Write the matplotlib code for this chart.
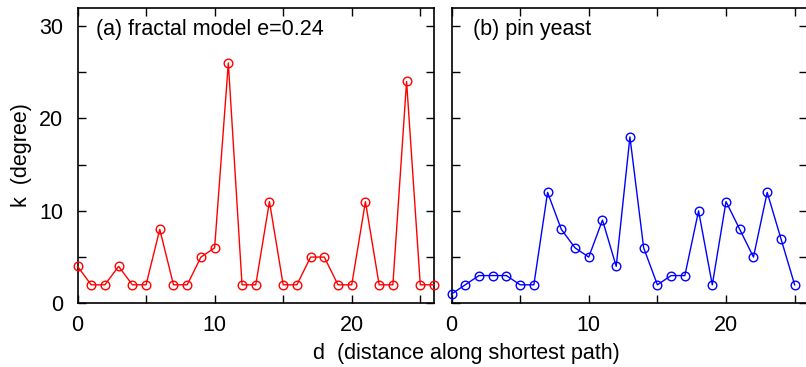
import matplotlib
matplotlib.use("Agg")
import matplotlib.pyplot as plt
from matplotlib.ticker import MultipleLocator

plt.rcParams['font.family'] = ['Liberation Sans', 'DejaVu Sans']

d_a = list(range(27))
k_a = [4, 2, 2, 4, 2, 2, 8, 2, 2, 5, 6, 26, 2, 2, 11, 2, 2, 5, 5, 2, 2, 11, 2, 2, 24, 2, 2]
d_b = list(range(26))
k_b = [1, 2, 3, 3, 3, 2, 2, 12, 8, 6, 5, 9, 4, 18, 6, 2, 3, 3, 10, 2, 11, 8, 5, 12, 7, 2]

label_a = "(a) fractal model e=0.24"
label_b = "(b) pin yeast"
xlabel = "d  (distance along shortest path)"
ylabel = "k  (degree)"

fig = plt.figure(figsize=(8.06, 3.67), dpi=100)
W, H = 806, 367
def ax_at(x0, x1, ytop, ybot):
    return fig.add_axes([x0 / W, (H - ybot) / H, (x1 - x0) / W, (ybot - ytop) / H])

ax1 = ax_at(77.5, 434, 7.5, 303.3)
ax2 = ax_at(451.5, 807, 7.5, 303.3)

fs = 15.5
for ax, d, k, col, lab, xmax in [(ax1, d_a, k_a, 'red', label_a, 26), (ax2, d_b, k_b, 'blue', label_b, 25.9)]:
    ax.plot(d, k, '-o', color=col, lw=1.0, ms=6.2, mfc='none', mec=col, mew=1.0, clip_on=False, zorder=3)
    ax.set_xlim(0, xmax)
    ax.set_ylim(0, 32)
    ax.xaxis.set_major_locator(MultipleLocator(10))
    ax.xaxis.set_minor_locator(MultipleLocator(5))
    ax.yaxis.set_major_locator(MultipleLocator(10))
    ax.yaxis.set_minor_locator(MultipleLocator(5))
    ax.tick_params(which='both', direction='in', top=True, right=True, width=1.0, labelsize=fs)
    ax.tick_params(axis='x', which='both', pad=8.5)
    ax.tick_params(axis='y', which='both', pad=10.5)
    ax.tick_params(which='major', length=6)
    ax.tick_params(which='minor', length=6)
    for s in ax.spines.values():
        s.set_linewidth(1.2)
    ax.text(0.052 if ax is ax1 else 0.06, 0.96, lab, transform=ax.transAxes, fontsize=fs, va='top', ha='left')

ax2.set_yticklabels([])
ax1.set_ylabel(ylabel, fontsize=fs, labelpad=5)
fig.text(466 / W, (H - 354) / H, xlabel, fontsize=fs, ha='center', va='center')

fig.savefig("out.png", dpi=100)
